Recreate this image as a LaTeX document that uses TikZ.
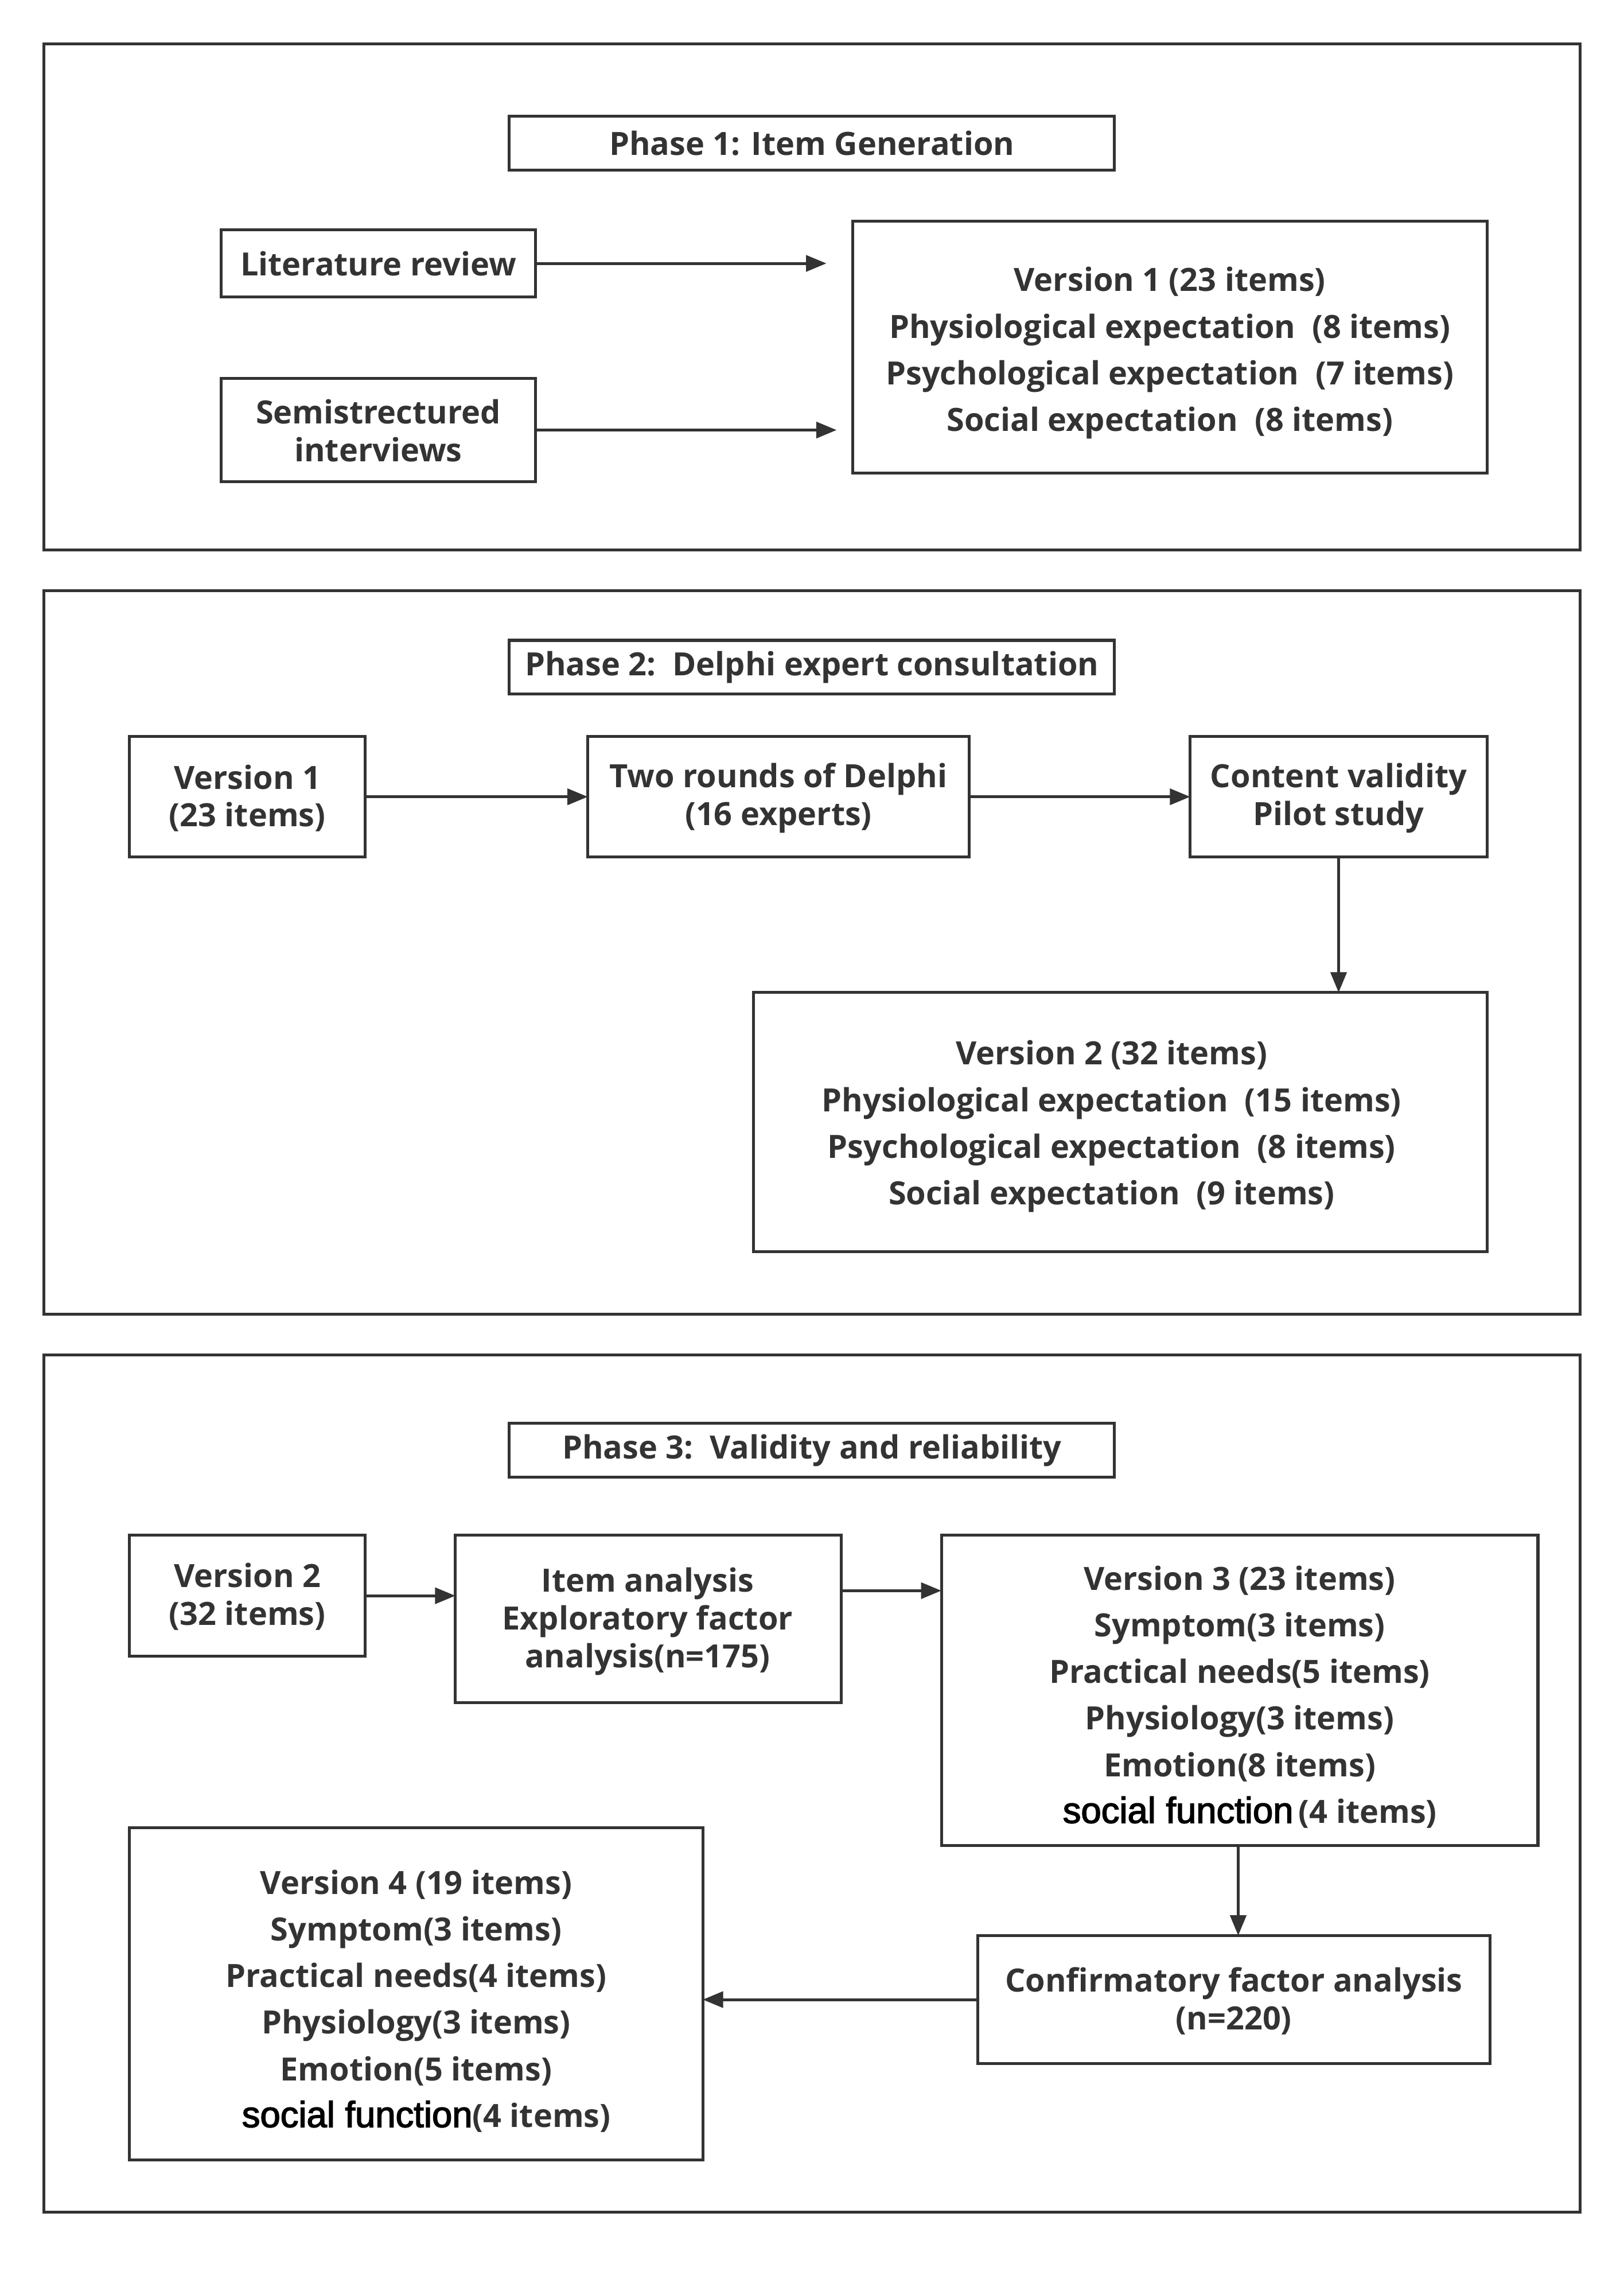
\documentclass[tikz,border=0pt]{standalone}
\usepackage{fontspec}
\setmainfont{Open Sans}
\newfontfamily\arialf[FakeBold=2.5]{Liberation Sans}
\usetikzlibrary{arrows.meta}
\definecolor{ink}{HTML}{333333}
\newcommand{\sfn}{{\arialf\mdseries\fontsize{25}{26}\selectfont\color{black}social function}}
\begin{document}
\begin{tikzpicture}[x=1pt,y=-1pt,
  every node/.style={text=ink,font=\bfseries\fontsize{22}{32}\selectfont,align=center,inner sep=0pt},
  tight/.style={font=\bfseries\fontsize{22}{26}\selectfont},
  frame/.style={draw=ink,line width=2pt},
  boxr/.style={draw=ink,line width=2pt},
  conn/.style={draw=ink,line width=2pt,-{Triangle[length=14pt,width=11pt]}}]
\useasboundingbox (0,0) rectangle (1116,1566);
% frames
\draw[frame] (30,30) rectangle (1086,378);
\draw[frame] (30,406) rectangle (1086,903);
\draw[frame] (30,931) rectangle (1086,1520);
% Phase 1
\draw[boxr] (350,80) rectangle (766,117);
\node (p1) at (558,98.5) {Phase 1: Item Generation};
\draw[boxr] (152,158) rectangle (368,204);
\node (lit) at (260,181) {Literature review};
\coordinate (litE) at (368,181);
\draw[boxr] (152,260) rectangle (368,331);
\node[tight] (semi) at (260,296) {Semistrectured\\interviews};
\coordinate (semiE) at (368,295.5);
\draw[boxr] (586,152) rectangle (1022,325);
\node (v1) at (804,242.5) {Version 1 (23 items)\\Physiological expectation\ \ (8 items)\\Psychological expectation\ \ (7 items)\\Social expectation\ \ (8 items)};
\coordinate (a1) at (568,181);
\coordinate (a2) at (575,295.5);
\draw[conn] (litE) -- (a1);
\draw[conn] (semiE) -- (a2);
% Phase 2
\draw[boxr] (350,440) rectangle (766,477);
\node (p2) at (558,458.5) {Phase 2:\ \ Delphi expert consultation};
\draw[boxr] (89,506) rectangle (251,589);
\node[tight] (v1b) at (170,548.5) {Version 1\\(23 items)};
\coordinate (v1bE) at (251,547.5);
\draw[boxr] (404,506) rectangle (666,589);
\node[tight] (delphi) at (535,548.5) {Two rounds of Delphi\\(16 experts)};
\coordinate (delW) at (404,547.5);
\coordinate (delE) at (666,547.5);
\draw[boxr] (818,506) rectangle (1022,589);
\node[tight] (cv) at (920,548.5) {Content validity\\Pilot study};
\coordinate (cvW) at (818,547.5);
\coordinate (cvS) at (920,589);
\draw[boxr] (518,682) rectangle (1022,860);
\node (v2) at (764,774) {Version 2 (32 items)\\Physiological expectation\ \ (15 items)\\Psychological expectation\ \ (8 items)\\Social expectation\ \ (9 items)};
\coordinate (v2N) at (920,682);
\draw[conn] (v1bE) -- (delW);
\draw[conn] (delE) -- (cvW);
\draw[conn] (cvS) -- (v2N);
% Phase 3
\draw[boxr] (350,978) rectangle (766,1015);
\node (p3) at (558,996.5) {Phase 3:\ \ Validity and reliability};
\draw[boxr] (89,1055) rectangle (251,1138);
\node[tight] (v2b) at (170,1097) {Version 2\\(32 items)};
\coordinate (v2bE) at (251,1096.5);
\draw[boxr] (313,1055) rectangle (578,1170);
\node[tight] (ia) at (445,1114) {Item analysis\\Exploratory factor\\analysis(n=175)};
\coordinate (iaW) at (313,1096.5);
\coordinate (iaE) at (578,1093);
\draw[boxr] (647,1055) rectangle (1057,1268);
\node (v3) at (852,1166) {Version 3 (23 items)\\Symptom(3 items)\\Practical needs(5 items)\\Physiology(3 items)\\Emotion(8 items)\\\hspace*{14pt}\sfn\,(4 items)};
\coordinate (v3W) at (647,1093);
\coordinate (v3S) at (851,1268);
\draw[boxr] (672,1330) rectangle (1024,1418);
\node[tight] (cfa) at (848,1375) {Confirmatory factor analysis\\(n=220)};
\coordinate (cfaN) at (851,1330);
\coordinate (cfaW) at (672,1374);
\draw[boxr] (89,1256) rectangle (483,1484);
\node (v4) at (286,1375) {Version 4 (19 items)\\Symptom(3 items)\\Practical needs(4 items)\\Physiology(3 items)\\Emotion(5 items)\\\hspace*{14pt}\sfn(4 items)};
\coordinate (v4E) at (483,1374);
\draw[conn] (v2bE) -- (iaW);
\draw[conn] (iaE) -- (v3W);
\draw[conn] (v3S) -- (cfaN);
\draw[conn] (cfaW) -- (v4E);
\end{tikzpicture}
\end{document}
